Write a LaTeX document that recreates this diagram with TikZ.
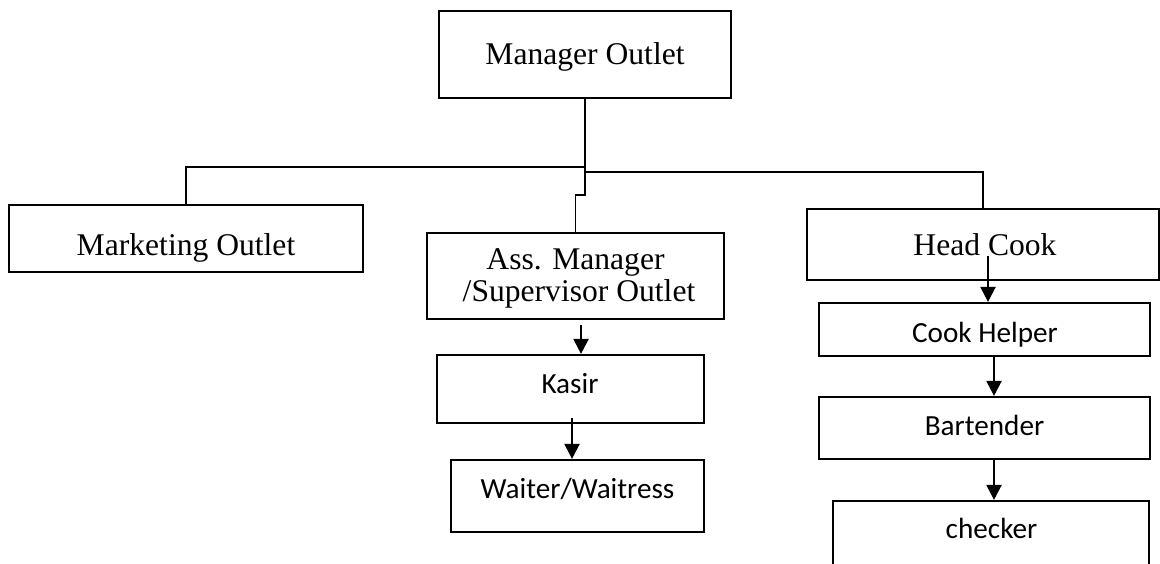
\documentclass[tikz,border=0pt]{standalone}
\usepackage{fontspec}
\setmainfont{Liberation Serif}
\newfontfamily\calfont{Carlito}
\usetikzlibrary{arrows.meta,calc}
\tikzset{
  box/.style={draw=black, line width=1.1pt, fill=white, inner sep=0pt},
  sertext/.style={anchor=base, inner sep=0pt, font=\fontsize{15.8}{16}\selectfont},
  caltext/.style={anchor=base, inner sep=0pt, font=\calfont\fontsize{14.6}{15}\selectfont},
  conn/.style={draw=black, line width=0.55pt},
  arr/.style={draw=black, line width=1.1pt, -{Triangle[width=7.5pt,length=7.5pt]}}
}
\begin{document}
\begin{tikzpicture}[x=0.5pt,y=-0.5pt]
\useasboundingbox (0,0) rectangle (1160,563);
\clip (0,0) rectangle (1160,563);
% boxes
\node[box, minimum width=146pt, minimum height=43.5pt] (mgr) at (585,54.5) {};
\node[box, minimum width=177pt, minimum height=33.5pt] (mkt) at (186,238.5) {};
\node[box, minimum width=148.5pt, minimum height=43pt] (ass) at (575.5,276) {};
\node[box, minimum width=176pt, minimum height=35.5pt] (hc) at (983,244.5) {};
\node[box, minimum width=133.5pt, minimum height=34pt] (kas) at (570.5,389) {};
\node[box, minimum width=126.5pt, minimum height=36pt] (wt) at (577.5,496) {};
\node[box, minimum width=165.5pt, minimum height=26.5pt] (ch) at (984.5,329.5) {};
\node[box, minimum width=165.5pt, minimum height=31pt] (bt) at (984.5,428) {};
\node[box, minimum width=158pt, minimum height=49.5pt] (chk) at (991,550.5) {};
% texts
\node[sertext] (mgrt) at (585,64) {Manager Outlet};
\node[sertext] (mktt) at (186,255) {Marketing Outlet};
\node[sertext] (asst1) at (575.5,269.5) {Ass. Manager};
\node[sertext] (asst2) at (579,301) {/Supervisor Outlet};
\node[sertext] (hct) at (985,255) {Head Cook};
\node[caltext] (kast) at (570,393) {Kasir};
\node[caltext] (wtt) at (577.5,498) {Waiter/Waitress};
\node[caltext] (cht) at (985,342) {Cook Helper};
\node[caltext] (btt) at (984.5,435) {Bartender};
\node[caltext] (chkt) at (991.5,538) {checker};
% connectors
\coordinate (jA) at (585,167);
\coordinate (jB) at (585,172);
\coordinate (jC) at (585,195);
\draw[conn] (mgr.south) -- (jC) -- (jC -| ass.north) -- (ass.north);
\draw[conn] (jA) -| (mkt.north);
\draw[conn] (jB) -| (hc.north);
% arrows
\draw[arr] ($(ass.south)+(5.5,5)$) -- ($(kas.north)+(10.5,0)$);
\draw[arr] ($(kas.south)+(1.5,-6)$) -- ($(wt.north)+(-5.5,0)$);
\draw[arr] ($(hc.south)+(5,-25)$) -- ($(ch.north)+(3.5,0)$);
\draw[arr] ($(ch.south)+(9.5,0)$) -- ($(bt.north)+(9.5,0)$);
\draw[arr] ($(bt.south)+(9.5,0)$) -- ($(chk.north)+(3,0)$);
\end{tikzpicture}
\end{document}
